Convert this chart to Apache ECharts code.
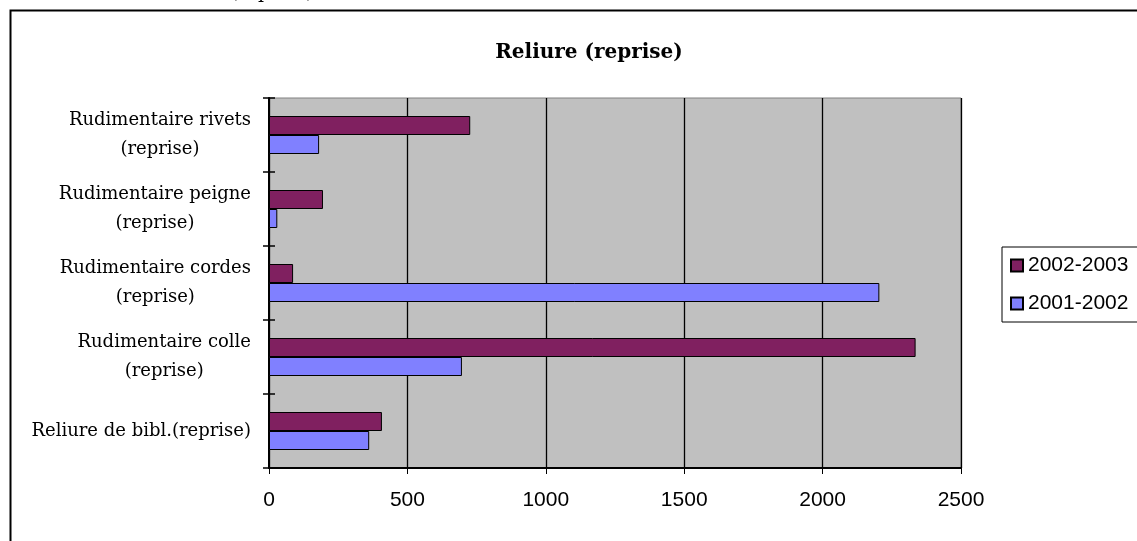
<!DOCTYPE html>
<html>
<head>
<meta charset="utf-8">
<script src="https://cdn.jsdelivr.net/npm/echarts@6/dist/echarts.min.js"></script>
<style>
html,body{margin:0;padding:0;background:#fff;}
#chart{width:1137px;height:541px;}
</style>
</head>
<body>
<div id="chart"></div>
<script>
const categories = [
  "Reliure de bibl.(reprise)",
  "Rudimentaire colle (reprise)",
  "Rudimentaire cordes (reprise)",
  "Rudimentaire peigne (reprise)",
  "Rudimentaire rivets (reprise)"
];
const seriesNames = ["2002-2003", "2001-2002"];
const values2002_2003 = [408, 2336, 87, 195, 727];
const values2001_2002 = [362, 697, 2205, 30, 181];
const xTicks = [0, 500, 1000, 1500, 2000, 2500];

const chart = echarts.init(document.getElementById('chart'), null, {renderer: 'canvas'});
const serif = "'DejaVu Serif', 'Liberation Serif', serif";
const sans = "'Liberation Sans', Arial, sans-serif";

function catLabel(v) {
  let lines;
  if (v.indexOf(' (reprise)') >= 0) lines = v.replace(' (reprise)', '\n(reprise)').split('\n');
  else lines = [v];
  return lines.map(l => '{c|' + l + '}').join('\n');
}

chart.setOption({
  animation: false,
  backgroundColor: '#ffffff',
  title: {
    text: 'Reliure (reprise)',
    left: 584,
    top: 38,
    textAlign: 'center',
    textStyle: {fontFamily: serif, fontWeight: 'bold', fontSize: 20, color: '#000'}
  },
  graphic: [
    {
      type: 'rect', left: 8, top: 8, silent: true,
      shape: {x: 0, y: 0, width: 1140, height: 540},
      style: {fill: null, stroke: '#000', lineWidth: 2}
    },
    {
      type: 'text', left: 32, top: -16, silent: true,
      style: {text: 'Rudimentaire rivets (reprise)', font: "19px 'DejaVu Serif', serif", fill: '#000'}
    }
  ],
  legend: {
    orient: 'vertical',
    left: 1002,
    top: 247,
    padding: [8, 20, 8, 8],
    borderColor: '#000',
    borderWidth: 1,
    backgroundColor: '#fff',
    itemWidth: 12,
    itemHeight: 12,
    itemGap: 17,
    icon: 'rect',
    data: seriesNames,
    textStyle: {fontFamily: sans, fontSize: 21, color: '#000'}
  },
  grid: {
    left: 269, right: 176, top: 98, bottom: 73,
    show: true,
    backgroundColor: '#C0C0C0',
    borderColor: '#808080',
    borderWidth: 1
  },
  xAxis: {
    type: 'value',
    min: 0, max: 2500, interval: 500,
    axisLine: {show: true, lineStyle: {color: '#000', width: 2}},
    axisTick: {show: true, length: 6, lineStyle: {color: '#000', width: 1}},
    splitLine: {show: true, lineStyle: {color: '#000', width: 1.3}},
    axisLabel: {
      margin: 22,
      fontFamily: sans, fontSize: 21, color: '#000',
      formatter: v => xTicks.indexOf(v) >= 0 ? String(v) : ''
    }
  },
  yAxis: [
    {
      type: 'category',
      data: categories,
      axisLine: {show: true, lineStyle: {color: '#000', width: 2}},
      axisTick: {show: true, length: 6, lineStyle: {color: '#000', width: 1.5}},
      splitLine: {show: false},
      axisLabel: {
        margin: 18,
        color: '#000',
        fontFamily: serif, fontSize: 18,
        lineHeight: 29,
        formatter: catLabel,
        rich: {c: {align: 'center', fontFamily: serif, fontSize: 18, lineHeight: 29, color: '#000'}}
      }
    },
    {
      type: 'category',
      data: categories,
      position: 'left',
      axisLine: {show: false},
      axisTick: {show: true, inside: true, length: 6, lineStyle: {color: '#000', width: 1.5}},
      axisLabel: {show: false},
      splitLine: {show: false}
    }
  ],
  series: [
    {
      name: seriesNames[0], type: 'bar', data: values2002_2003,
      barWidth: 19, barGap: '0%',
      itemStyle: {color: '#802060', borderColor: '#000', borderWidth: 1}
    },
    {
      name: seriesNames[1], type: 'bar', data: values2001_2002,
      barWidth: 19, barGap: '0%',
      itemStyle: {color: '#8080FF', borderColor: '#000', borderWidth: 1}
    }
  ]
});
</script>
</body>
</html>
